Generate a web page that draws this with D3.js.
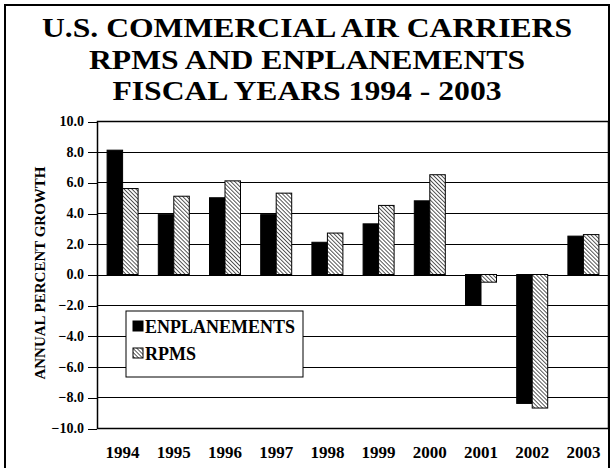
<!DOCTYPE html>
<meta charset="utf-8">
<style>
body { margin: 0; background: #fff; }
svg { display: block; }
svg text { font-family: "Liberation Serif", "Times New Roman", serif !important; font-weight: bold; }
.title { font-size: 28px; }
.grid line { stroke: #000; stroke-width: 1; shape-rendering: crispEdges; }
.tick line { stroke: #000; shape-rendering: crispEdges; }
</style>
<body>
<script src="https://d3js.org/d3.v7.min.js"></script>
<script>

var years = ["1994", "1995", "1996", "1997", "1998", "1999", "2000", "2001", "2002", "2003"];
var enplanements = [8.1, 3.9, 5.0, 3.9, 2.1, 3.3, 4.8, -2.0, -8.4, 2.5];
var rpms = [5.6, 5.1, 6.1, 5.3, 2.7, 4.5, 6.5, -0.5, -8.7, 2.6];
var yTicks = [-10, -8, -6, -4, -2, 0, 2, 4, 6, 8, 10];
var seriesNames = ["ENPLANEMENTS", "RPMS"];
var titleLines = ["U.S. COMMERCIAL AIR CARRIERS", "RPMS AND ENPLANEMENTS", "FISCAL YEARS 1994 - 2003"];

var W = 613, H = 468;
var margin = {top: 121, right: 4, bottom: 40, left: 97};
var width = W - margin.left - margin.right;
var height = H - margin.top - margin.bottom;

var svg = d3.select("body").append("svg")
	.attr("width", W)
	.attr("height", H);

// fine diagonal hatch for RPMS bars
var defs = svg.append("defs");
defs.append("pattern")
	.attr("id", "hatch")
	.attr("patternUnits", "userSpaceOnUse")
	.attr("width", 2.8)
	.attr("height", 2.8)
	.attr("patternTransform", "rotate(-45)")
	.call(function(p) {
		p.append("rect").attr("width", 2.8).attr("height", 2.8).attr("fill", "#fff");
		p.append("line").attr("x1", 0).attr("y1", 0).attr("x2", 0).attr("y2", 2.8)
			.attr("stroke", "#111").attr("stroke-width", 1.4);
	});

// outer frame
svg.append("rect")
	.attr("x", 5).attr("y", 5)
	.attr("width", 604).attr("height", 480)
	.attr("fill", "none")
	.attr("stroke", "#000")
	.attr("stroke-width", 2);

// title: the original type is a bit wider than Times, so stretch it
svg.selectAll(".title")
	.data(titleLines)
	.enter().append("text")
	.attr("class", "title")
	.attr("x", 307)
	.attr("y", function(d, i) { return 37 + i * 31.5; })
	.attr("text-anchor", "middle")
	.text(function(d) { return d; })
	.each(function() {
		var len = this.getComputedTextLength();
		d3.select(this).attr("textLength", len * 1.13).attr("lengthAdjust", "spacingAndGlyphs");
	});

var g = svg.append("g")
	.attr("transform", "translate(" + margin.left + "," + margin.top + ")");

var x = d3.scaleBand().domain(years).range([0, width]);
var y = d3.scaleLinear().domain([-10, 10]).range([height, 0]);
var bw = 15.5;

// gridlines
g.append("g")
	.attr("class", "grid")
	.selectAll("line")
	.data(yTicks)
	.enter().append("line")
	.attr("x1", 0).attr("x2", width)
	.attr("y1", function(d) { return Math.round(y(d)) + 0.5; })
	.attr("y2", function(d) { return Math.round(y(d)) + 0.5; });

var yAxis = g.append("g")
	.call(d3.axisLeft(y).tickValues(yTicks).tickSize(9).tickPadding(4)
		.tickFormat(d3.format(".1f")));
yAxis.attr("font-family", null).attr("font-size", null);
yAxis.select(".domain").remove();
yAxis.selectAll(".tick line").attr("transform", "translate(0,0.5)");
yAxis.selectAll("text").attr("fill", "#000").style("font-size", "14px");

var xAxis = g.append("g")
	.attr("transform", "translate(0," + height + ")")
	.call(d3.axisBottom(x).tickSize(0).tickPadding(18));
xAxis.attr("font-family", null).attr("font-size", null);
xAxis.select(".domain").remove();
xAxis.selectAll("text").style("font-size", "17px").attr("fill", "#000");

var groups = g.selectAll(".yr")
	.data(years)
	.enter().append("g")
	.attr("transform", function(d) { return "translate(" + (x(d) + x.bandwidth() / 2) + ",0)"; });

groups.append("rect")
	.attr("x", -bw)
	.attr("width", bw)
	.attr("y", function(d, i) { return y(Math.max(0, enplanements[i])); })
	.attr("height", function(d, i) { return Math.abs(y(enplanements[i]) - y(0)); })
	.attr("fill", "#000")
	.attr("stroke", "#000");

groups.append("rect")
	.attr("x", 0)
	.attr("width", bw)
	.attr("y", function(d, i) { return y(Math.max(0, rpms[i])); })
	.attr("height", function(d, i) { return Math.abs(y(rpms[i]) - y(0)); })
	.attr("fill", "url(#hatch)")
	.attr("stroke", "#000");

// plot border
g.append("rect")
	.attr("x", 0.5).attr("y", 0.5)
	.attr("width", width - 1).attr("height", height)
	.attr("fill", "none")
	.attr("stroke", "#000")
	.attr("stroke-width", 1.5);

// y title
svg.append("text")
	.attr("transform", "translate(45,273) rotate(-90)")
	.attr("text-anchor", "middle")
	.style("font-size", "15px")
	.text("ANNUAL PERCENT GROWTH");

// legend
var leg = svg.append("g").attr("transform", "translate(126,311)");
leg.append("rect")
	.attr("width", 177).attr("height", 66)
	.attr("fill", "#fff")
	.attr("stroke", "#000");
var li = leg.selectAll(".li")
	.data(seriesNames)
	.enter().append("g")
	.attr("transform", function(d, i) { return "translate(7," + (15 + i * 27) + ")"; });
li.append("rect")
	.attr("width", 10).attr("height", 10)
	.attr("y", -5)
	.attr("fill", function(d, i) { return i ? "url(#hatch)" : "#000"; })
	.attr("stroke", "#000");
li.append("text")
	.attr("x", 12)
	.attr("y", 6.5)
	.style("font-size", "18px")
	.text(function(d) { return d; });

</script>
</body>
